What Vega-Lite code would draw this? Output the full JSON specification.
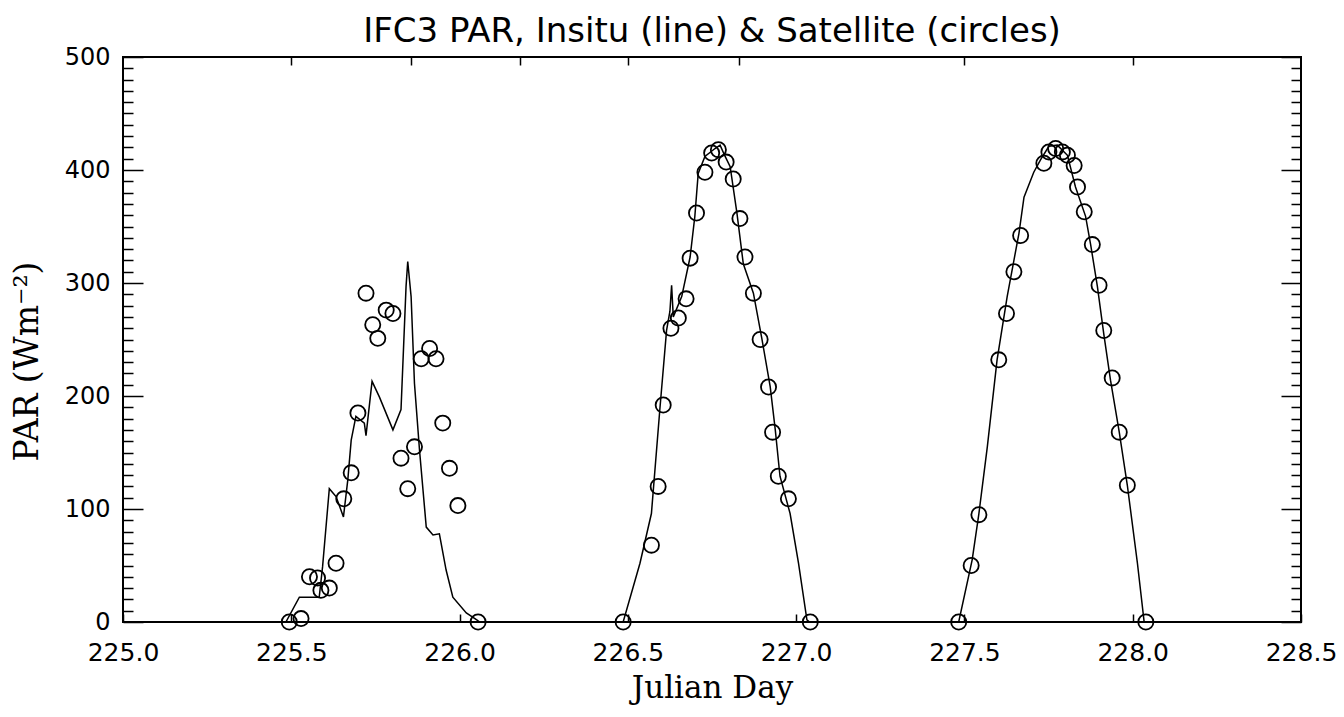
{
  "$schema": "https://vega.github.io/schema/vega-lite/v6.json",
  "width": 1178,
  "height": 565,
  "autosize": {"type": "none"},
  "padding": {"left": 123, "top": 57, "right": 43, "bottom": 95},
  "background": "white",
  "title": {"text": "IFC3 PAR, Insitu (line) & Satellite (circles)", "font": "DejaVu Sans", "fontSize": 34, "fontWeight": "normal", "color": "black", "offset": -4, "anchor": "middle"},
  "config": {
    "view": {"stroke": "black", "strokeWidth": 2},
    "axis": {"grid": false, "domain": false, "tickColor": "black", "tickWidth": 1.5, "labelColor": "black", "titleColor": "black", "labelFlush": false, "labelOverlap": false}
  },
  "datasets": {
    "insitu": [
      {"day": 225.0, "par": 0}, {"day": 225.484, "par": 0}, {"day": 225.524, "par": 22}, {"day": 225.583, "par": 22},
      {"day": 225.593, "par": 49}, {"day": 225.613, "par": 118}, {"day": 225.633, "par": 111}, {"day": 225.655, "par": 93},
      {"day": 225.668, "par": 126}, {"day": 225.678, "par": 161}, {"day": 225.692, "par": 182}, {"day": 225.717, "par": 176},
      {"day": 225.722, "par": 165}, {"day": 225.740, "par": 213}, {"day": 225.762, "par": 199}, {"day": 225.802, "par": 170},
      {"day": 225.826, "par": 188}, {"day": 225.841, "par": 297}, {"day": 225.846, "par": 319}, {"day": 225.856, "par": 288},
      {"day": 225.866, "par": 211}, {"day": 225.881, "par": 152}, {"day": 225.901, "par": 84}, {"day": 225.921, "par": 77},
      {"day": 225.940, "par": 78}, {"day": 225.960, "par": 46}, {"day": 225.980, "par": 22}, {"day": 226.020, "par": 8},
      {"day": 226.050, "par": 2}, {"day": 226.060, "par": 0}, {"day": 226.486, "par": 0}, {"day": 226.536, "par": 52},
      {"day": 226.570, "par": 96}, {"day": 226.595, "par": 188}, {"day": 226.615, "par": 258}, {"day": 226.625, "par": 275},
      {"day": 226.630, "par": 298}, {"day": 226.635, "par": 270}, {"day": 226.660, "par": 288}, {"day": 226.685, "par": 323},
      {"day": 226.699, "par": 359}, {"day": 226.709, "par": 397}, {"day": 226.729, "par": 412}, {"day": 226.759, "par": 419},
      {"day": 226.774, "par": 422}, {"day": 226.789, "par": 412}, {"day": 226.804, "par": 403}, {"day": 226.824, "par": 362},
      {"day": 226.843, "par": 317}, {"day": 226.873, "par": 291}, {"day": 226.898, "par": 251}, {"day": 226.923, "par": 208},
      {"day": 226.938, "par": 170}, {"day": 226.952, "par": 129}, {"day": 226.982, "par": 96}, {"day": 227.007, "par": 52},
      {"day": 227.032, "par": 2}, {"day": 227.040, "par": 0}, {"day": 227.483, "par": 0}, {"day": 227.523, "par": 55},
      {"day": 227.543, "par": 96}, {"day": 227.568, "par": 155}, {"day": 227.597, "par": 232}, {"day": 227.627, "par": 288},
      {"day": 227.662, "par": 344}, {"day": 227.677, "par": 376}, {"day": 227.706, "par": 398}, {"day": 227.726, "par": 409},
      {"day": 227.751, "par": 421}, {"day": 227.776, "par": 422}, {"day": 227.806, "par": 413}, {"day": 227.830, "par": 385},
      {"day": 227.860, "par": 359}, {"day": 227.875, "par": 334}, {"day": 227.895, "par": 297}, {"day": 227.914, "par": 255},
      {"day": 227.934, "par": 214}, {"day": 227.960, "par": 168}, {"day": 227.984, "par": 121}, {"day": 228.014, "par": 52},
      {"day": 228.034, "par": 0}, {"day": 228.5, "par": 0}
    ],
    "satellite": [
      {"day": 225.494, "par": 0}, {"day": 225.529, "par": 3}, {"day": 225.554, "par": 40}, {"day": 225.578, "par": 39},
      {"day": 225.588, "par": 28}, {"day": 225.613, "par": 30}, {"day": 225.633, "par": 52}, {"day": 225.656, "par": 109},
      {"day": 225.678, "par": 132}, {"day": 225.698, "par": 185}, {"day": 225.722, "par": 291}, {"day": 225.742, "par": 263},
      {"day": 225.757, "par": 251}, {"day": 225.782, "par": 276}, {"day": 225.802, "par": 273}, {"day": 225.826, "par": 145},
      {"day": 225.846, "par": 118}, {"day": 225.866, "par": 155}, {"day": 225.886, "par": 233}, {"day": 225.911, "par": 242},
      {"day": 225.930, "par": 233}, {"day": 225.950, "par": 176}, {"day": 225.970, "par": 136}, {"day": 225.995, "par": 103},
      {"day": 226.055, "par": 0},
      {"day": 226.486, "par": 0}, {"day": 226.570, "par": 68}, {"day": 226.590, "par": 120}, {"day": 226.605, "par": 192},
      {"day": 226.628, "par": 260}, {"day": 226.650, "par": 269}, {"day": 226.673, "par": 286}, {"day": 226.685, "par": 322},
      {"day": 226.704, "par": 362}, {"day": 226.729, "par": 398}, {"day": 226.749, "par": 415}, {"day": 226.769, "par": 418},
      {"day": 226.792, "par": 407}, {"day": 226.813, "par": 392}, {"day": 226.833, "par": 357}, {"day": 226.848, "par": 323},
      {"day": 226.873, "par": 291}, {"day": 226.893, "par": 250}, {"day": 226.918, "par": 208}, {"day": 226.930, "par": 168},
      {"day": 226.947, "par": 129}, {"day": 226.977, "par": 109}, {"day": 227.042, "par": 0},
      {"day": 227.483, "par": 0}, {"day": 227.520, "par": 50}, {"day": 227.543, "par": 95}, {"day": 227.602, "par": 232},
      {"day": 227.625, "par": 273}, {"day": 227.647, "par": 310}, {"day": 227.667, "par": 342}, {"day": 227.736, "par": 406},
      {"day": 227.751, "par": 416}, {"day": 227.771, "par": 419}, {"day": 227.791, "par": 416}, {"day": 227.806, "par": 413},
      {"day": 227.826, "par": 404}, {"day": 227.836, "par": 385}, {"day": 227.856, "par": 363}, {"day": 227.880, "par": 334},
      {"day": 227.900, "par": 298}, {"day": 227.914, "par": 258}, {"day": 227.939, "par": 216}, {"day": 227.960, "par": 168},
      {"day": 227.984, "par": 121}, {"day": 228.039, "par": 0}
    ]
  },
  "layer": [
    {
      "data": {"name": "insitu"},
      "mark": {"type": "line", "color": "black", "strokeWidth": 1.5},
      "encoding": {
        "x": {
          "field": "day", "type": "quantitative",
          "scale": {"domain": [225, 228.5], "nice": false, "zero": false},
          "axis": {
            "orient": "bottom",
            "values": [225, 225.5, 226, 226.5, 227, 227.5, 228, 228.5],
            "format": ".1f",
            "tickSize": -8,
            "labelFont": "DejaVu Sans", "labelFontSize": 25, "labelPadding": 26,
            "title": "Julian Day", "titleFont": "DejaVu Serif", "titleFontSize": 31, "titleFontWeight": "normal", "titlePadding": 8
          }
        },
        "y": {
          "field": "par", "type": "quantitative",
          "scale": {"domain": [0, 500], "nice": false, "zero": true},
          "axis": {
            "orient": "left",
            "values": [0,10,20,30,40,50,60,70,80,90,100,110,120,130,140,150,160,170,180,190,200,210,220,230,240,250,260,270,280,290,300,310,320,330,340,350,360,370,380,390,400,410,420,430,440,450,460,470,480,490,500],
            "tickSize": {"condition": {"test": "datum.value % 100 === 0", "value": -20}, "value": -10},
            "labelExpr": "datum.value % 100 === 0 ? datum.label : ''",
            "labelFont": "DejaVu Sans", "labelFontSize": 24, "labelPadding": 33,
            "title": "PAR (Wm⁻²)", "titleFont": "DejaVu Serif", "titleFontSize": 33, "titleFontWeight": "normal", "titlePadding": 20, "titleY": 304
          }
        }
      }
    },
    {
      "data": {"name": "satellite"},
      "mark": {"type": "point", "shape": "circle", "filled": false, "size": 230, "strokeWidth": 1.8, "color": "black", "opacity": 1},
      "encoding": {
        "x": {
          "field": "day", "type": "quantitative",
          "scale": {"domain": [225, 228.5], "nice": false, "zero": false},
          "axis": {"orient": "top", "values": [225.5, 225.857, 226.18, 226.5, 226.83, 227.5, 228.0], "tickSize": -8, "labels": false, "title": null}
        },
        "y": {
          "field": "par", "type": "quantitative",
          "scale": {"domain": [0, 500], "nice": false, "zero": true},
          "axis": {
            "orient": "right",
            "values": [0,10,20,30,40,50,60,70,80,90,100,110,120,130,140,150,160,170,180,190,200,210,220,230,240,250,260,270,280,290,300,310,320,330,340,350,360,370,380,390,400,410,420,430,440,450,460,470,480,490,500],
            "tickSize": {"condition": {"test": "datum.value % 100 === 0", "value": -20}, "value": -10},
            "labels": false, "title": null
          }
        }
      }
    }
  ],
  "resolve": {"axis": {"x": "independent", "y": "independent"}}
}
